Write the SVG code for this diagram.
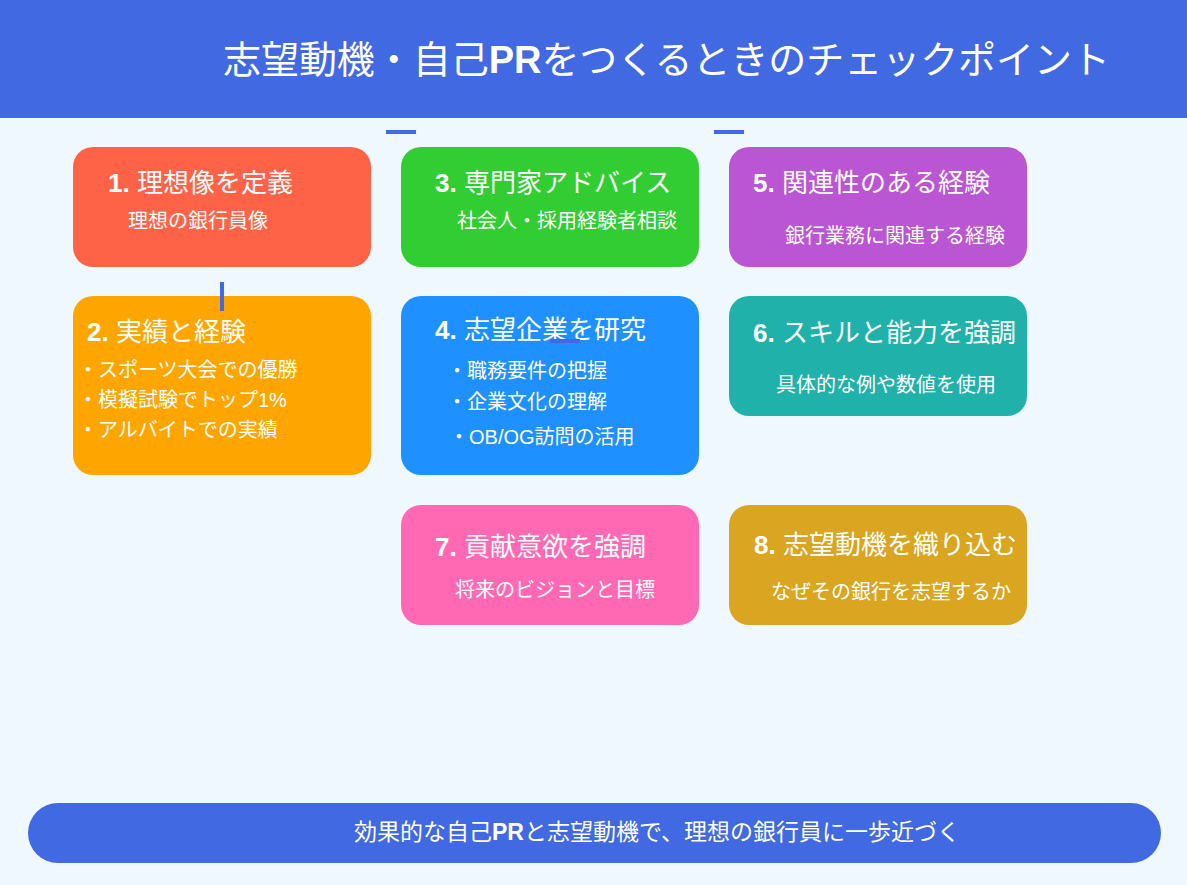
<svg xmlns="http://www.w3.org/2000/svg" width="1187" height="885" viewBox="0 0 1187 885">
<style>
text{font-family:"Liberation Sans","Noto Sans CJK JP",sans-serif;fill:#fff}
.t{font-size:26px}
.s{font-size:20px}
.b{font-weight:bold}
.box{stroke:none}
.c{stroke:#4169E1;stroke-width:4;fill:none}
</style>
<rect x="0" y="0" width="1187" height="885" fill="#F0F8FF"/>
<g id="header">
<rect x="0" y="0" width="1187" height="118" fill="#4169E1"/>
<text x="223" y="73" font-size="38" textLength="887" lengthAdjust="spacing">志望動機・自己<tspan class="b">PR</tspan>をつくるときのチェックポイント</text>
</g>
<g id="node1">
<rect class="box" x="73" y="147" width="298" height="120" rx="20" fill="#FF6347"/>
<text class="t" x="108" y="192"><tspan class="b">1.</tspan> 理想像を定義</text>
<text class="s" x="128" y="228">理想の銀行員像</text>
</g>
<g id="node2">
<rect class="box" x="73" y="296" width="298" height="179" rx="20" fill="#FFA500"/>
<text class="t" x="87" y="341"><tspan class="b">2.</tspan> 実績と経験</text>
<text class="s" x="78" y="377">・スポーツ大会での優勝</text>
<text class="s" x="78" y="407">・模擬試験でトップ1%</text>
<text class="s" x="78" y="437">・アルバイトでの実績</text>
</g>
<g id="node3">
<rect class="box" x="401" y="147" width="298" height="120" rx="20" fill="#32CD32"/>
<text class="t" x="435" y="192"><tspan class="b">3.</tspan> 専門家アドバイス</text>
<text class="s" x="457" y="228">社会人・採用経験者相談</text>
</g>
<g id="node4">
<rect class="box" x="401" y="296" width="298" height="179" rx="20" fill="#1E90FF"/>
<text class="t" x="435" y="339"><tspan class="b">4.</tspan> 志望企業を研究</text>
<text class="s" x="447" y="378">・職務要件の把握</text>
<text class="s" x="447" y="409">・企業文化の理解</text>
<text class="s" x="449" y="444">・OB/OG訪問の活用</text>
</g>
<g id="node5">
<rect class="box" x="729" y="147" width="298" height="120" rx="20" fill="#BA55D3"/>
<text class="t" x="753" y="192"><tspan class="b">5.</tspan> 関連性のある経験</text>
<text class="s" x="785" y="243">銀行業務に関連する経験</text>
</g>
<g id="node6">
<rect class="box" x="729" y="296" width="298" height="120" rx="20" fill="#20B2AA"/>
<text class="t" x="753" y="342"><tspan class="b">6.</tspan> スキルと能力を強調</text>
<text class="s" x="776" y="392">具体的な例や数値を使用</text>
</g>
<g id="node7">
<rect class="box" x="401" y="505" width="298" height="120" rx="20" fill="#FF69B4"/>
<text class="t" x="435" y="556"><tspan class="b">7.</tspan> 貢献意欲を強調</text>
<text class="s" x="455" y="597">将来のビジョンと目標</text>
</g>
<g id="node8">
<rect class="box" x="729" y="505" width="298" height="120" rx="20" fill="#DAA520"/>
<text class="t" x="754" y="554"><tspan class="b">8.</tspan> 志望動機を織り込む</text>
<text class="s" x="771" y="599">なぜその銀行を志望するか</text>
</g>
<g id="connectors">
<line class="c" x1="386" y1="132" x2="416" y2="132"/>
<line class="c" x1="714" y1="132" x2="744" y2="132"/>
<line class="c" x1="222" y1="282" x2="222" y2="311"/>
<line class="c" x1="550" y1="341" x2="580" y2="341"/>
</g>
<g id="footer">
<rect x="28" y="803" width="1133" height="60" rx="30" fill="#4169E1"/>
<text x="354" y="840" font-size="23">効果的な自己<tspan class="b">PR</tspan>と志望動機で、理想の銀行員に一歩近づく</text>
</g>
</svg>
